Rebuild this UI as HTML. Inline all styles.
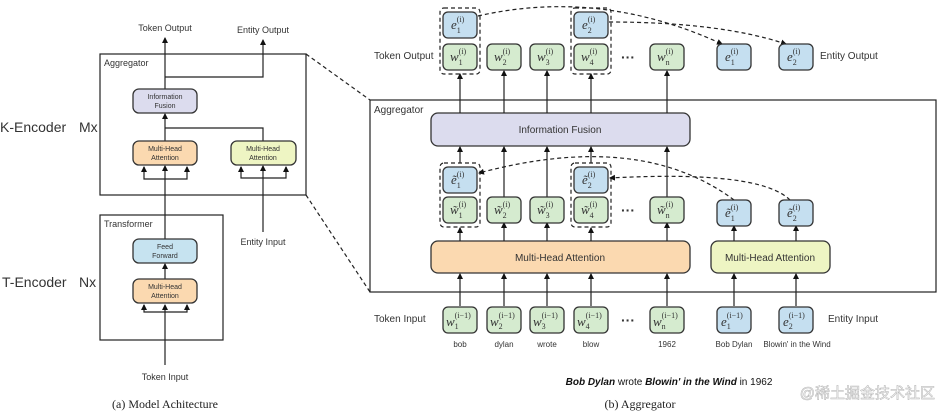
<!DOCTYPE html>
<html><head><meta charset="utf-8"><style>
body{margin:0;background:#fff}
svg{display:block}
.s{font-family:"Liberation Sans",sans-serif;fill:#333}
.m{font-family:"Liberation Serif",serif;font-style:italic;fill:#333}
.m tspan{font-size:8px;font-style:normal}
</style></head><body>
<svg width="937" height="411" viewBox="0 0 937 411" xmlns="http://www.w3.org/2000/svg">
<defs>
<marker id="a" markerWidth="6" markerHeight="6" refX="5" refY="3" orient="auto" markerUnits="userSpaceOnUse"><path d="M0,0 L6,3 L0,6z" fill="#111"/></marker>
</defs>
<g stroke="#222" stroke-width="1.2" fill="none">
<rect x="100" y="54" width="206" height="141"/>
<rect x="100" y="215" width="123" height="125"/>
<line x1="306" y1="54" x2="370" y2="100" stroke-dasharray="4,3"/>
<line x1="306" y1="195" x2="370" y2="292" stroke-dasharray="4,3"/>
<line x1="165" y1="365" x2="165" y2="305" marker-end="url(#a)"/>
<path d="M165,312 H144 V305 M165,312 H187 V305"/>
<path d="M144,310 V305" marker-end="url(#a)"/><path d="M187,310 V305" marker-end="url(#a)"/>
<line x1="165" y1="279" x2="165" y2="264" marker-end="url(#a)"/>
<line x1="165" y1="239" x2="165" y2="166" marker-end="url(#a)"/>
<path d="M165,179 H144 V167 M165,179 H187 V167"/>
<path d="M144,172 V167" marker-end="url(#a)"/><path d="M187,172 V167" marker-end="url(#a)"/>
<line x1="263" y1="232" x2="263" y2="166" marker-end="url(#a)"/>
<path d="M263,178 H241 V167 M263,178 H286 V167"/>
<path d="M241,172 V167" marker-end="url(#a)"/><path d="M286,172 V167" marker-end="url(#a)"/>
<line x1="165" y1="141" x2="165" y2="114" marker-end="url(#a)"/>
<path d="M263,141 V128 H165"/>
<line x1="165" y1="89" x2="165" y2="38" marker-end="url(#a)"/>
<path d="M165,77 H263 V40" marker-end="url(#a)"/>
<rect x="370" y="100" width="566" height="192"/>
</g>
<g stroke="#333" stroke-width="1.3">
<rect x="133" y="89" width="64" height="24" rx="6" fill="#dcdcee"/>
<rect x="133" y="141" width="64" height="24" rx="6" fill="#fbd9b0"/>
<rect x="231" y="141" width="65" height="24" rx="6" fill="#eef5c3"/>
<rect x="133" y="239" width="64" height="24" rx="6" fill="#c6e3f0"/>
<rect x="133" y="279" width="64" height="24" rx="6" fill="#fbd9b0"/>
<rect x="431" y="113" width="259" height="33" rx="7" fill="#dcdcee"/>
<rect x="431" y="241" width="259" height="32" rx="7" fill="#fbd9b0"/>
<rect x="711" y="241" width="119" height="32" rx="7" fill="#eef5c3"/>
</g>
<g class="s" font-size="7" text-anchor="middle">
<text x="165" y="99">Information</text><text x="165" y="108">Fusion</text>
<text x="165" y="151">Multi-Head</text><text x="165" y="160">Attention</text>
<text x="263" y="151">Multi-Head</text><text x="263" y="160">Attention</text>
<text x="165" y="249">Feed</text><text x="165" y="258">Forward</text>
<text x="165" y="289">Multi-Head</text><text x="165" y="298">Attention</text>
</g>
<g class="s" font-size="9">
<text x="165" y="31" text-anchor="middle">Token Output</text>
<text x="263" y="33" text-anchor="middle">Entity Output</text>
<text x="104" y="66">Aggregator</text>
<text x="104" y="227">Transformer</text>
<text x="263" y="245" text-anchor="middle">Entity Input</text>
<text x="165" y="380" text-anchor="middle">Token Input</text>
</g>
<g class="s" font-size="14">
<text x="0" y="132">K-Encoder</text><text x="79" y="132">Mx</text>
<text x="2" y="287">T-Encoder</text><text x="79" y="287">Nx</text>
</g>
<text x="165" y="408" text-anchor="middle" font-family="Liberation Serif,serif" font-size="12" fill="#222">(a) Model Achitecture</text>

<g stroke="#222" stroke-width="1.2" fill="none">
<g marker-end="url(#a)">
<line x1="460" y1="306" x2="460" y2="274"/><line x1="504" y1="306" x2="504" y2="274"/>
<line x1="547" y1="306" x2="547" y2="274"/><line x1="591" y1="306" x2="591" y2="274"/>
<line x1="667" y1="306" x2="667" y2="274"/>
<line x1="734" y1="306" x2="734" y2="274"/><line x1="796" y1="306" x2="796" y2="274"/>
<line x1="734" y1="241" x2="734" y2="226"/><line x1="796" y1="241" x2="796" y2="226"/>
<line x1="460" y1="241" x2="460" y2="228"/><line x1="504" y1="241" x2="504" y2="223"/>
<line x1="547" y1="241" x2="547" y2="223"/><line x1="591" y1="241" x2="591" y2="228"/>
<line x1="667" y1="241" x2="667" y2="223"/>
<line x1="460" y1="163" x2="460" y2="147"/><line x1="504" y1="197" x2="504" y2="147"/>
<line x1="547" y1="197" x2="547" y2="147"/><line x1="591" y1="163" x2="591" y2="147"/>
<line x1="667" y1="197" x2="667" y2="147"/>
<line x1="460" y1="113" x2="460" y2="74"/><line x1="504" y1="113" x2="504" y2="71"/>
<line x1="547" y1="113" x2="547" y2="71"/><line x1="591" y1="113" x2="591" y2="74"/>
<line x1="667" y1="113" x2="667" y2="71"/>
</g>
<g stroke-dasharray="4,3">
<rect x="440" y="8" width="40" height="66" rx="4"/>
<rect x="571" y="8" width="40" height="66" rx="4"/>
<rect x="440" y="163" width="40" height="64" rx="4"/>
<rect x="571" y="163" width="40" height="64" rx="4"/>
<path d="M478,16 Q600,-12 722,44" marker-end="url(#a)"/>
<path d="M609,22 Q720,22 786,44" marker-end="url(#a)"/>
<path d="M734,200 Q640,130 479,173" marker-end="url(#a)"/>
<path d="M790,200 Q760,170 610,178" marker-end="url(#a)"/>
</g>
</g>
<g stroke="#333" stroke-width="1.3">
<g fill="#d5ebcf">
<rect x="443" y="44" width="34" height="26" rx="5"/><rect x="487" y="44" width="34" height="26" rx="5"/>
<rect x="530" y="44" width="34" height="26" rx="5"/><rect x="574" y="44" width="34" height="26" rx="5"/>
<rect x="650" y="44" width="34" height="26" rx="5"/>
<rect x="443" y="197" width="34" height="26" rx="5"/><rect x="487" y="197" width="34" height="26" rx="5"/>
<rect x="530" y="197" width="34" height="26" rx="5"/><rect x="574" y="197" width="34" height="26" rx="5"/>
<rect x="650" y="197" width="34" height="26" rx="5"/>
<rect x="443" y="307" width="34" height="26" rx="5"/><rect x="487" y="307" width="34" height="26" rx="5"/>
<rect x="530" y="307" width="34" height="26" rx="5"/><rect x="574" y="307" width="34" height="26" rx="5"/>
<rect x="650" y="307" width="34" height="26" rx="5"/>
</g>
<g fill="#c5dff0">
<rect x="443" y="12" width="34" height="26" rx="5"/><rect x="574" y="12" width="34" height="26" rx="5"/>
<rect x="717" y="44" width="34" height="26" rx="5"/><rect x="779" y="44" width="34" height="26" rx="5"/>
<rect x="443" y="167" width="34" height="26" rx="5"/><rect x="574" y="167" width="34" height="26" rx="5"/>
<rect x="717" y="200" width="34" height="26" rx="5"/><rect x="779" y="200" width="34" height="26" rx="5"/>
<rect x="717" y="307" width="34" height="26" rx="5"/><rect x="779" y="307" width="34" height="26" rx="5"/>
</g>
</g>
<g class="m" font-size="13">
<text x="451" y="29">e<tspan dy="4">1</tspan><tspan dx="-4" dy="-11">(i)</tspan></text>
<text x="582" y="29">e<tspan dy="4">2</tspan><tspan dx="-4" dy="-11">(i)</tspan></text>
<text x="725" y="61">e<tspan dy="4">1</tspan><tspan dx="-4" dy="-11">(i)</tspan></text>
<text x="787" y="61">e<tspan dy="4">2</tspan><tspan dx="-4" dy="-11">(i)</tspan></text>
<text x="451" y="184">ẽ<tspan dy="4">1</tspan><tspan dx="-4" dy="-11">(i)</tspan></text>
<text x="582" y="184">ẽ<tspan dy="4">2</tspan><tspan dx="-4" dy="-11">(i)</tspan></text>
<text x="725" y="217">ẽ<tspan dy="4">1</tspan><tspan dx="-4" dy="-11">(i)</tspan></text>
<text x="787" y="217">ẽ<tspan dy="4">2</tspan><tspan dx="-4" dy="-11">(i)</tspan></text>
<text x="450" y="61">w<tspan dy="4">1</tspan><tspan dx="-4" dy="-11">(i)</tspan></text>
<text x="494" y="61">w<tspan dy="4">2</tspan><tspan dx="-4" dy="-11">(i)</tspan></text>
<text x="537" y="61">w<tspan dy="4">3</tspan><tspan dx="-4" dy="-11">(i)</tspan></text>
<text x="581" y="61">w<tspan dy="4">4</tspan><tspan dx="-4" dy="-11">(i)</tspan></text>
<text x="657" y="61">w<tspan dy="4">n</tspan><tspan dx="-4" dy="-11">(i)</tspan></text>
<text x="450" y="214">w̃<tspan dy="4">1</tspan><tspan dx="-4" dy="-11">(i)</tspan></text>
<text x="494" y="214">w̃<tspan dy="4">2</tspan><tspan dx="-4" dy="-11">(i)</tspan></text>
<text x="537" y="214">w̃<tspan dy="4">3</tspan><tspan dx="-4" dy="-11">(i)</tspan></text>
<text x="581" y="214">w̃<tspan dy="4">4</tspan><tspan dx="-4" dy="-11">(i)</tspan></text>
<text x="657" y="214">w̃<tspan dy="4">n</tspan><tspan dx="-4" dy="-11">(i)</tspan></text>
<text x="446" y="326">w<tspan dy="3">1</tspan><tspan dx="-4" dy="-11">(i−1)</tspan></text>
<text x="490" y="326">w<tspan dy="3">2</tspan><tspan dx="-4" dy="-11">(i−1)</tspan></text>
<text x="533" y="326">w<tspan dy="3">3</tspan><tspan dx="-4" dy="-11">(i−1)</tspan></text>
<text x="577" y="326">w<tspan dy="3">4</tspan><tspan dx="-4" dy="-11">(i−1)</tspan></text>
<text x="653" y="326">w<tspan dy="3">n</tspan><tspan dx="-4" dy="-11">(i−1)</tspan></text>
<text x="721" y="326">e<tspan dy="3">1</tspan><tspan dx="-4" dy="-11">(i−1)</tspan></text>
<text x="783" y="326">e<tspan dy="3">2</tspan><tspan dx="-4" dy="-11">(i−1)</tspan></text>
</g>
<g class="s" font-size="14" font-weight="bold" text-anchor="middle">
<text x="628" y="62">···</text><text x="628" y="215">···</text><text x="628" y="325">···</text>
</g>
<g class="s" font-size="10">
<text x="374" y="59">Token Output</text>
<text x="820" y="59">Entity Output</text>
<text x="374" y="113">Aggregator</text>
<text x="374" y="322">Token Input</text>
<text x="828" y="322">Entity Input</text>
<text x="560" y="133" text-anchor="middle">Information Fusion</text>
<text x="560" y="261" text-anchor="middle">Multi-Head Attention</text>
<text x="770" y="261" text-anchor="middle">Multi-Head Attention</text>
</g>
<g class="s" font-size="8" text-anchor="middle">
<text x="460" y="347">bob</text><text x="504" y="347">dylan</text><text x="547" y="347">wrote</text>
<text x="591" y="347">blow</text><text x="667" y="347">1962</text>
<text x="734" y="347">Bob Dylan</text><text x="797" y="347">Blowin' in the Wind</text>
</g>
<text x="669" y="385" text-anchor="middle" font-family="Liberation Sans,sans-serif" font-size="10" fill="#111"><tspan font-weight="bold" font-style="italic">Bob Dylan</tspan> wrote <tspan font-weight="bold" font-style="italic">Blowin' in the Wind</tspan> in 1962</text>
<text x="640" y="408" text-anchor="middle" font-family="Liberation Serif,serif" font-size="12" fill="#222">(b) Aggregator</text>
<text x="935" y="398" text-anchor="end" font-family="Liberation Sans,'Noto Sans CJK SC',sans-serif" font-size="15" fill="#fff" stroke="#bbb" stroke-width="0.6">@稀土掘金技术社区</text>
</svg>
</body></html>
